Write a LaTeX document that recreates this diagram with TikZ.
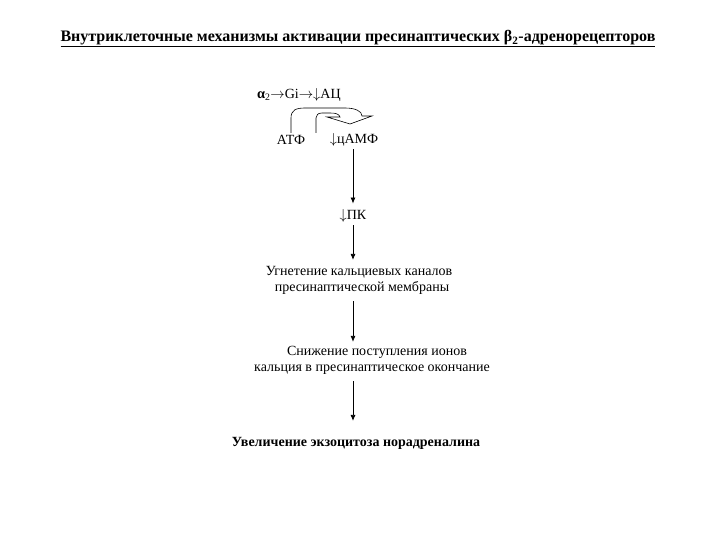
\documentclass[tikz,border=0pt]{standalone}
\usepackage{fontspec}
\setmainfont{Liberation Serif}
\usetikzlibrary{arrows.meta,calc}
\newcommand{\ra}{\ensuremath{\rightarrow}}
\newcommand{\da}{\ensuremath{\downarrow}}
\begin{document}
\begin{tikzpicture}[x=1pt,y=-1pt,
  txt/.style={inner sep=0pt,outer sep=0pt,font=\fontsize{14}{16}\selectfont,align=center},
  arr/.style={draw,line width=0.8pt,-{Latex[length=6pt,width=5pt]}},
  blockarrow/.style={draw,line width=0.6pt,fill=white,line join=miter}]
\useasboundingbox[fill=white] (0,0) rectangle (720,540);
\node[txt,font=\fontsize{16}{18}\selectfont\bfseries] (title) at (358,38)
  {Внутриклеточные механизмы активации пресинаптических β\textsubscript{2}-адренорецепторов};
\draw[line width=1.1pt] ([yshift=-1.5pt]title.south west) -- ([yshift=-1.5pt]title.south east);
\node[txt,anchor=west] (top) at (257,95) {\textbf{\Large α}\textsubscript{2}\ra Gi\ra\da АЦ};
\node[txt] (atf) at (291,140) {АТФ};
\node[txt] (camp) at (354,140) {\da цАМФ};
\node[txt] (pk) at (353,216) {\da ПК};
\node[txt] (ugn) at (359,280) {Угнетение кальциевых каналов\\\hspace*{6pt}пресинаптической мембраны};
\node[txt] (sn) at (372,360) {\hspace*{10pt}Снижение поступления ионов\\кальция в пресинаптическое окончание};
\node[txt,font=\fontsize{14}{16}\selectfont\bfseries] (uv) at (356,443) {Увеличение экзоцитоза норадреналина};
\coordinate (ax) at (353,0);
% U-turn block arrow from ATF
\path[blockarrow] (291,133) -- (291,118) .. controls (291,110) and (296,108) .. (305,108)
  -- (345,108) .. controls (355,108) and (362,111) .. (362,116) -- (372,116) -- (350,124)
  -- (327,117) -- (340,117) .. controls (339,114) and (336,113) .. (330,113)
  -- (322,113) .. controls (318,113) and (316,115) .. (316,118) -- (316,133);
\draw[arr,shorten <=3pt,shorten >=6pt] (ax |- camp.south) -- (ax |- pk.north);
\draw[arr,shorten <=3pt,shorten >=6pt] (ax |- pk.south) -- (ax |- ugn.north);
\draw[arr,shorten <=7pt,shorten >=4pt] (ax |- ugn.south) -- (ax |- sn.north);
\draw[arr,shorten <=7pt,shorten >=16pt] (ax |- sn.south) -- (ax |- uv.north);
\end{tikzpicture}
\end{document}
